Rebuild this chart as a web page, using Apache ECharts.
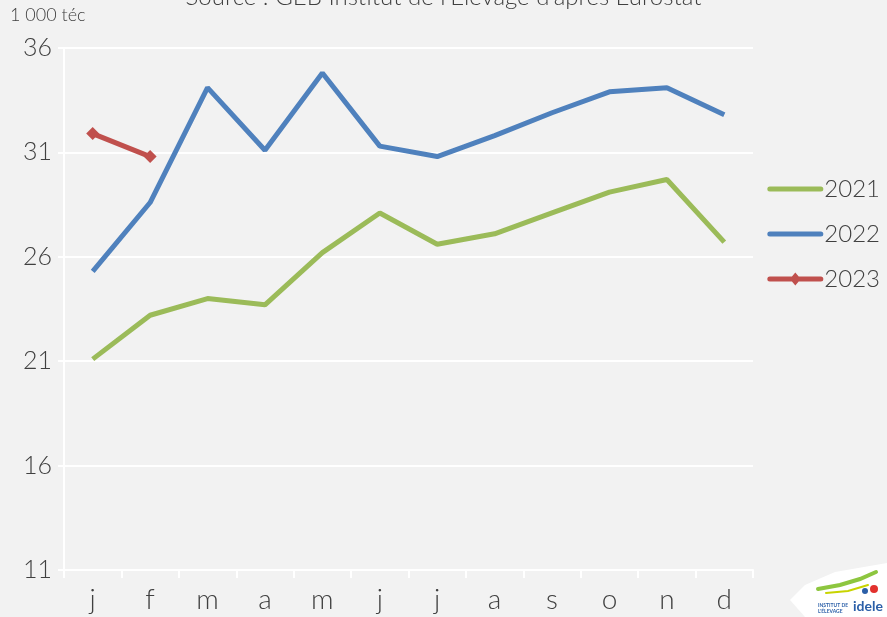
<!DOCTYPE html>
<html>
<head>
<meta charset="utf-8">
<script src="https://cdn.jsdelivr.net/npm/echarts@6/dist/echarts.min.js"></script>
<style>
  html, body { margin: 0; padding: 0; background: #f2f2f2; }
  #chart { width: 887px; height: 617px; }
</style>
</head>
<body>
<div id="chart"></div>
<script>
// Months (French initials)
const months = ['j', 'f', 'm', 'a', 'm', 'j', 'j', 'a', 's', 'o', 'n', 'd'];

// Monthly volumes, in 1 000 téc
const y2021 = [21.1, 23.2, 24.0, 23.7, 26.2, 28.1, 26.6, 27.1, 28.1, 29.1, 29.7, 26.7];
const y2022 = [25.3, 28.6, 34.1, 31.1, 34.8, 31.3, 30.8, 31.8, 32.9, 33.9, 34.1, 32.8];
const y2023 = [31.9, 30.8];

const yMin = 11, yMax = 36, yStep = 5;

const FONT = 'Lato, "Noto Sans", sans-serif';
const TXT = '#404040';

// Legend keys: a thick stroke inside a 56x14 box (corner specks fix the box size)
const BOX = 'M0,0L0.01,0L0,0.01Z M56,14L55.99,14L56,13.99Z ';
const LINE_KEY = 'path://' + BOX + 'M2.5,4.5 L53.5,4.5 A2.5,2.5 0 0 1 53.5,9.5 L2.5,9.5 A2.5,2.5 0 0 1 2.5,4.5Z';
const DIAMOND_KEY = LINE_KEY + ' M28,0.5 L33.5,7 L28,13.5 L22.5,7Z';

const chart = echarts.init(document.getElementById('chart'));

chart.setOption({
  backgroundColor: '#f2f2f2',
  animation: false,
  textStyle: { fontFamily: FONT, color: TXT },
  grid: { left: 64, right: 134, top: 48, bottom: 47 },
  graphic: [
    {
      type: 'text', left: 'center', top: -15,
      style: { text: "Source : GEB Institut de l'Elevage d'après Eurostat", font: '300 24px ' + FONT, fill: TXT },
      silent: true
    },
    {
      type: 'text', left: 10, top: 6,
      style: { text: '1 000 téc', font: '300 18px ' + FONT, fill: TXT },
      silent: true
    },
    // idele logo, lower right corner
    {
      type: 'polygon',
      shape: { points: [[790, 600], [805, 585], [835, 572], [887, 563], [887, 617], [805, 617]] },
      style: { fill: '#ffffff' }, silent: true
    },
    {
      type: 'polyline', shape: { points: [[818, 589], [840, 585], [860, 579], [876, 572]] },
      style: { stroke: '#8dc63f', lineWidth: 4, fill: null, lineCap: 'round' }, silent: true
    },
    {
      type: 'polyline', shape: { points: [[826, 593], [848, 591], [868, 585]] },
      style: { stroke: '#c8d400', lineWidth: 2, fill: null, lineCap: 'round' }, silent: true
    },
    {
      type: 'circle', shape: { cx: 874, cy: 589, r: 4 },
      style: { fill: '#e2312d' }, silent: true
    },
    {
      type: 'circle', shape: { cx: 865, cy: 591, r: 3 },
      style: { fill: '#2b5fa8' }, silent: true
    },
    {
      type: 'text', left: 853, top: 599,
      style: { text: 'idele', font: 'bold 14px ' + FONT, fill: '#2b5fa8' }, silent: true
    },
    {
      type: 'text', left: 818, top: 602,
      style: { text: "INSTITUT DE\nL'ÉLEVAGE", font: 'bold 5px ' + FONT, fill: '#2b5fa8', lineHeight: 6 }, silent: true
    }
  ],
  legend: {
    orient: 'vertical',
    right: 2,
    top: 172,
    itemWidth: 56,
    itemHeight: 14,
    itemGap: 21,
    textStyle: { fontFamily: FONT, fontSize: 24, fontWeight: 300, color: TXT, padding: [0, 0, 0, -4] },
    data: [
      { name: '2021', icon: LINE_KEY },
      { name: '2022', icon: LINE_KEY },
      { name: '2023', icon: DIAMOND_KEY }
    ]
  },
  xAxis: {
    type: 'category',
    data: months,
    boundaryGap: true,
    axisLine: { lineStyle: { color: '#ffffff', width: 2 } },
    axisTick: { show: true, length: 8, lineStyle: { color: '#ffffff', width: 2 } },
    axisLabel: { fontSize: 28, fontWeight: 300, color: TXT, margin: 16 },
    splitLine: { show: false }
  },
  yAxis: {
    type: 'value',
    min: yMin, max: yMax, interval: yStep,
    axisLine: { show: true, lineStyle: { color: '#ffffff', width: 2 } },
    axisTick: { show: true, length: 6, lineStyle: { color: '#ffffff', width: 2 } },
    axisLabel: { fontSize: 25, fontWeight: 300, color: TXT, margin: 12 },
    splitLine: { show: true, lineStyle: { color: '#ffffff', width: 2 } }
  },
  series: [
    {
      name: '2021', type: 'line', data: y2021,
      color: '#9bbb59',
      lineStyle: { width: 5, color: '#9bbb59' },
      symbol: 'none', showSymbol: false
    },
    {
      name: '2022', type: 'line', data: y2022,
      color: '#4f81bd',
      lineStyle: { width: 5, color: '#4f81bd' },
      symbol: 'none', showSymbol: false
    },
    {
      name: '2023', type: 'line', data: y2023,
      color: '#c0504d',
      lineStyle: { width: 5, color: '#c0504d' },
      symbol: 'diamond', symbolSize: 13, showSymbol: true,
      itemStyle: { color: '#c0504d' }
    }
  ]
});
</script>
</body>
</html>
